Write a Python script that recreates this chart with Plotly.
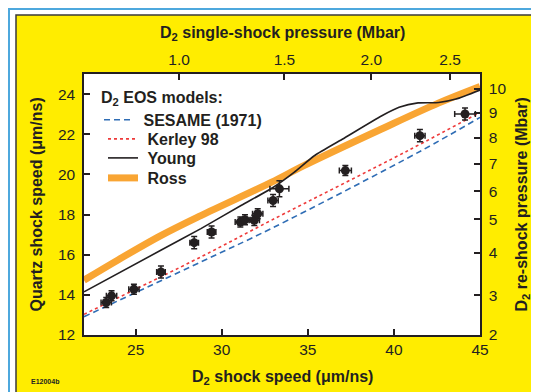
import plotly.graph_objects as go

# ---- data ----
d2_speed = [23.29, 23.60, 24.90, 26.47, 28.40, 29.41, 31.08, 31.35, 31.89, 32.09, 32.98, 33.35, 37.18, 41.51, 44.13]
quartz_speed = [13.62, 13.95, 14.28, 15.14, 16.60, 17.13, 17.63, 17.74, 17.71, 18.04, 18.70, 19.28, 20.19, 21.93, 23.01]
d2_err = [0.30, 0.30, 0.30, 0.25, 0.25, 0.25, 0.30, 0.30, 0.30, 0.30, 0.30, 0.55, 0.35, 0.30, 0.60]
quartz_err = [0.25, 0.25, 0.25, 0.30, 0.30, 0.30, 0.25, 0.25, 0.25, 0.25, 0.30, 0.40, 0.25, 0.30, 0.30]

sesame_x = [22, 28.79, 32.87, 41.61, 45]
sesame_y = [12.91, 15.64, 17.30, 21.19, 22.84]
kerley_x = [22, 28.79, 32.87, 40.83, 45]
kerley_y = [13.03, 15.89, 17.71, 21.19, 23.09]
young_x = [22, 26.46, 28.79, 31.12, 33.0, 34.2, 35.4, 37.0, 39.3, 40.3, 41.4, 42.6, 43.6, 45]
young_y = [14.15, 16.22, 17.30, 18.45, 19.36, 20.10, 20.94, 21.75, 22.92, 23.34, 23.56, 23.58, 23.75, 24.20]
ross_x = [22, 24, 26.46, 28.79, 32.87, 34.8, 39.28, 42.58, 45]
ross_y = [14.73, 15.75, 16.95, 17.95, 19.60, 20.45, 22.26, 23.55, 24.38]

# secondary axes: tick positions (in primary-axis units) and labels
top_tickvals = [27.52, 33.64, 38.69, 43.26]
top_ticktext = ["1.0", "1.5", "2.0", "2.5"]
right_tickvals = [12.0, 13.97, 16.09, 17.77, 19.16, 20.53, 21.82, 23.06, 24.25]
right_ticktext = ["2", "3", "4", "5", "6", "7", "8", "9", "10"]
bottom_tickvals = [25, 30, 35, 40, 45]
left_tickvals = [12, 14, 16, 18, 20, 22, 24]

INK = "#231F20"
FONT = "Liberation Sans, Arial, sans-serif"

# page pixel -> paper coordinates (plot area spans x 84..480, y 74..335 on the page)
def xp(px):
    return (px - 84) / 396.0

def yp(py):
    return (335 - py) / 261.0

fig = go.Figure()
fig.add_trace(go.Scatter(x=ross_x, y=ross_y, mode="lines", name="&nbsp;<b>Ross</b>", legend="legend4",
                         line=dict(color="#F9A533", width=7, shape="spline")))
fig.add_trace(go.Scatter(x=sesame_x, y=sesame_y, mode="lines", name="&nbsp;<b>SESAME (1971)</b>", legend="legend",
                         line=dict(color="#2F6DB5", width=1.6, dash="6px,4px", shape="spline")))
fig.add_trace(go.Scatter(x=kerley_x, y=kerley_y, mode="lines", name="&nbsp;<b>Kerley 98</b>", legend="legend2",
                         line=dict(color="#EE3A3A", width=1.6, dash="dot", shape="spline")))
fig.add_trace(go.Scatter(x=young_x, y=young_y, mode="lines", name="&nbsp;<b>Young</b>", legend="legend3",
                         line=dict(color=INK, width=1.6, shape="spline", smoothing=0.6)))
fig.add_trace(go.Scatter(x=d2_speed, y=quartz_speed, mode="markers", showlegend=False,
                         marker=dict(color=INK, size=9),
                         error_x=dict(type="data", array=d2_err, color=INK, thickness=1.5, width=3),
                         error_y=dict(type="data", array=quartz_err, color=INK, thickness=1.5, width=3)))
# empty trace to anchor the secondary axes
fig.add_trace(go.Scatter(x=[None], y=[None], xaxis="x2", yaxis="y2", showlegend=False, hoverinfo="skip"))

tickfont = dict(family=FONT, size=15.5, color=INK)
common = dict(showline=True, linecolor=INK, linewidth=1.5, ticks="inside", ticklen=6,
              tickwidth=1.5, tickcolor=INK, showgrid=False, zeroline=False, tickfont=tickfont)

leg_font = dict(family=FONT, size=16, color=INK)
def leg(y_center):
    return dict(x=xp(103), y=yp(y_center), xanchor="left", yanchor="middle",
                bgcolor="rgba(0,0,0,0)", font=leg_font, itemwidth=30)

legend1 = dict(x=xp(99), y=yp(82), xanchor="left", yanchor="top", bgcolor="rgba(0,0,0,0)",
               font=leg_font, itemwidth=30,
               title=dict(text="<b>D<sub>2</sub> EOS models:</b>", font=leg_font))

fig.update_layout(
    width=531, height=384,
    margin=dict(l=76, r=59, t=66, b=57),
    paper_bgcolor="white", plot_bgcolor="white",
    font=dict(family=FONT, color=INK),
    xaxis=dict(range=[22, 45], tickvals=bottom_tickvals, ticklabelstandoff=0, **common),
    yaxis=dict(range=[12, 25], tickvals=left_tickvals, ticklabelstandoff=4, **common),
    xaxis2=dict(range=[22, 45], overlaying="x", side="top", tickvals=top_tickvals,
                ticktext=top_ticktext, ticklabelstandoff=1, **common),
    yaxis2=dict(range=[12, 25], overlaying="y", side="right", tickvals=right_tickvals,
                ticktext=right_ticktext, ticklabelstandoff=4, **common),
    legend=legend1,
    legend2=leg(139),
    legend3=leg(158),
    legend4=leg(178),
    showlegend=True,
)

# background decoration: blue frame, yellow panel, white plotting area
fig.add_shape(type="rect", xref="paper", yref="paper", x0=xp(9), x1=1.40, y0=-0.50, y1=yp(9),
              line=dict(color="#4DA8DD", width=2), fillcolor="white", layer="below")
fig.add_shape(type="rect", xref="paper", yref="paper", x0=xp(16), x1=1.30, y0=-0.40, y1=yp(15),
              line=dict(color="#3A3A3A", width=1.5), fillcolor="#FFED00", layer="below")
fig.add_shape(type="rect", xref="paper", yref="paper", x0=0, x1=1, y0=0, y1=1,
              line=dict(width=0), fillcolor="white", layer="below")

title_font = dict(family=FONT, size=16, color=INK)
fig.add_annotation(text="<b>D<sub>2</sub> single-shock pressure (Mbar)</b>", xref="paper", yref="paper",
                   x=0.5, y=yp(33), showarrow=False, font=title_font, xanchor="center", yanchor="middle")
fig.add_annotation(text="<b>D<sub>2</sub> shock speed (μm/ns)</b>", xref="paper", yref="paper",
                   x=0.5, y=yp(377), showarrow=False, font=title_font, xanchor="center", yanchor="middle")
fig.add_annotation(text="<b>Quartz shock speed (μm/ns)</b>", xref="paper", yref="paper",
                   x=xp(36), y=0.5, showarrow=False, font=title_font, textangle=-90,
                   xanchor="center", yanchor="middle")
fig.add_annotation(text="<b>D<sub>2</sub> re-shock pressure (Mbar)</b>", xref="paper", yref="paper",
                   x=xp(522), y=0.5, showarrow=False, font=title_font, textangle=-90,
                   xanchor="center", yanchor="middle")
fig.add_annotation(text="<b>E12004b</b>", xref="paper", yref="paper",
                   x=xp(29), y=yp(381.5), showarrow=False,
                   font=dict(family=FONT, size=7, color=INK), xanchor="left", yanchor="middle")

fig.write_html("out.html")
